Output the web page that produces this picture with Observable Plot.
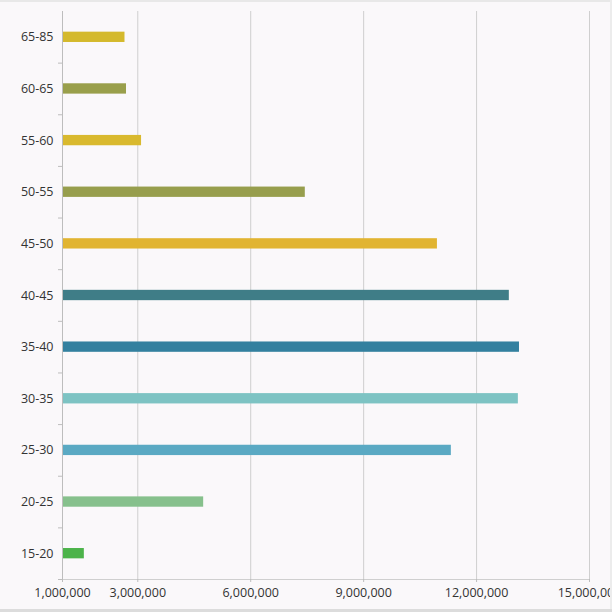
<!DOCTYPE html>
<html>
<head>
<meta charset="utf-8">
<script src="https://cdn.jsdelivr.net/npm/d3@7"></script>
<script src="https://cdn.jsdelivr.net/npm/@observablehq/plot@0.6"></script>
<style>
  html, body { margin: 0; padding: 0; background: #faf8fa; overflow: hidden; }
  #wrap { position: relative; width: 612px; height: 612px; }
  #chart svg { display: block; background: #faf8fa; }
  .edge { position: absolute; pointer-events: none; }
  #edgeTop { left: 0; top: 0; width: 612px; height: 2px; background: #e8e8e8; }
  #edgeRight { right: 0; top: 0; width: 2px; height: 612px; background: #ececec; }
  #edgeBottom { left: 0; bottom: 0; width: 612px; height: 3px; background: #dcdcdc; }
</style>
</head>
<body>
<div id="wrap">
  <div id="chart"></div>
  <div class="edge" id="edgeTop"></div>
  <div class="edge" id="edgeRight"></div>
  <div class="edge" id="edgeBottom"></div>
</div>
<script>
// Data (bottom to top as in the picture)
const ageGroups = ["15-20","20-25","25-30","30-35","35-40","40-45","45-50","50-55","55-60","60-65","65-85"];
const population = [1580000, 4750000, 11330000, 13110000, 13140000, 12870000, 10960000, 7450000, 3100000, 2700000, 2660000];
const barColors = ["#4cb34a","#86c08c","#5aa9c3","#7dc3c3","#33809f","#3f7d87","#e1b431","#979e4d","#d9b92e","#999f4b","#d4b92c"];
const xTicks = [1000000, 3000000, 6000000, 9000000, 12000000, 15000000];
const xMin = 1000000, xMax = 15000000;

const data = ageGroups.map((g, i) => ({group: g, value: population[i], color: barColors[i]}));

const W = 612, H = 612, mt = 11, mb = 33, ml = 62, mr = 23;
const step = (H - mt - mb) / ageGroups.length;
const topToBottom = ageGroups.slice().reverse();

const chart = Plot.plot({
  width: W,
  height: H,
  marginTop: mt,
  marginBottom: mb,
  marginLeft: ml,
  marginRight: mr,
  style: {fontFamily: "'Open Sans', sans-serif", fontSize: "12.5px", color: "#333", background: "#faf8fa"},
  x: {domain: [xMin, xMax], ticks: xTicks, tickFormat: d3.format(","), label: null},
  y: {domain: topToBottom, paddingInner: 0.8, paddingOuter: 0.4, round: false, label: null},
  marks: [
    Plot.gridX(xTicks.slice(1), {stroke: "#cfcfcf", strokeOpacity: 1}),
    Plot.barX(data, {y: "group", x1: xMin, x2: "value", fill: "color"}),
    Plot.ruleX([xMin], {stroke: "#bdbdbd"}),
    Plot.ruleY([ageGroups[0]], {dy: step / 2, stroke: "#cfcfcf", x1: xMin, x2: xMax}),
    Plot.axisX(xTicks, {tickSize: 3, tickPadding: 6, stroke: "#bdbdbd", fill: "#333", tickFormat: d3.format(","), label: null}),
    Plot.axisY({tickSize: 0, tickPadding: 9, fill: "#333", label: null}),
    Plot.axisY({tickSize: 4, text: null, dy: step / 2, stroke: "#bdbdbd", label: null})
  ]
});
document.getElementById("chart").appendChild(chart);
</script>
</body>
</html>
